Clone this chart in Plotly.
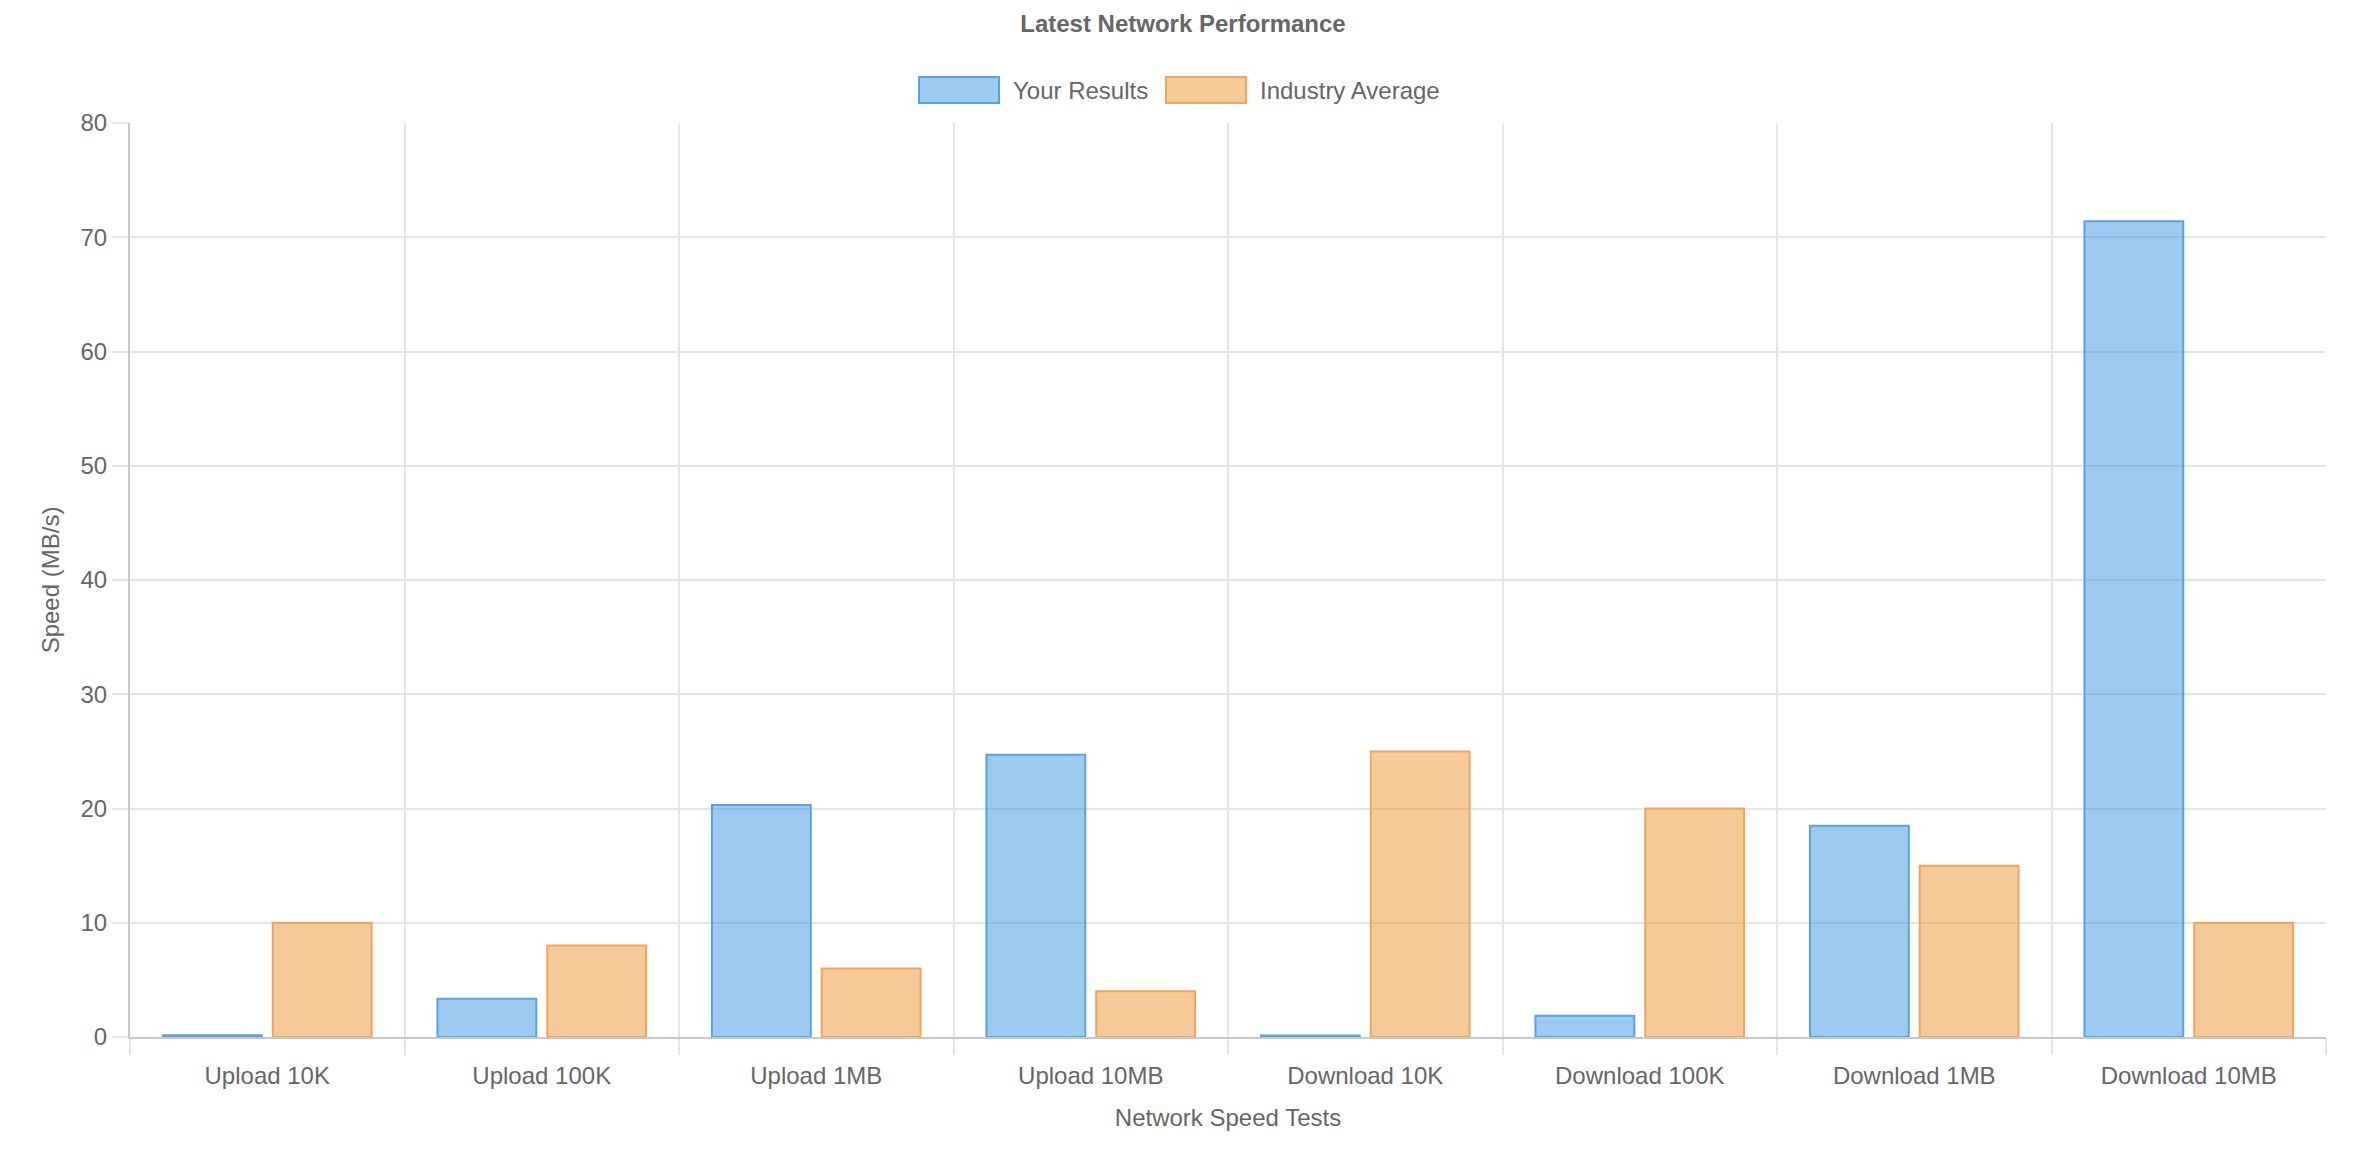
import plotly.graph_objects as go

categories = ["Upload 10K", "Upload 100K", "Upload 1MB", "Upload 10MB",
              "Download 10K", "Download 100K", "Download 1MB", "Download 10MB"]
your_results = [0.16, 3.35, 20.3, 24.7, 0.13, 1.86, 18.5, 71.4]
industry_average = [10, 8, 6, 4, 25, 20, 15, 10]
series_names = ["Your Results", "Industry Average"]
y_ticks = [0, 10, 20, 30, 40, 50, 60, 70, 80]

W, H = 2366, 1154
L, R, T, B = 130, 40, 123, 117
FONT = "Liberation Sans, Arial, Helvetica, sans-serif"
TXT = "#666666"
GRID = "#e5e5e5"
AXIS = "#c8c8c8"
fills = ["rgba(60,150,225,0.5)", "rgba(238,148,52,0.5)"]
borders = ["#5aa2e0", "#efa55c"]

fig = go.Figure()
for name, vals, fc, bc in zip(series_names, [your_results, industry_average], fills, borders):
    fig.add_trace(go.Bar(
        x=categories, y=vals, name=name, showlegend=False,
        marker=dict(color=fc, line=dict(color=bc, width=2)),
    ))

# custom legend (chart.js style wide boxes), placed in pixel space
def px_x(px):
    return (px - L) / (W - L - R)

def px_y(py):
    return (H - B - py) / (H - T - B)

legend_items = [(919, 999, 1011), (1166, 1246, 1258)]
for (x0, x1, tx), name, fc, bc in zip(legend_items, series_names, fills, borders):
    fig.add_shape(type="rect", xref="paper", yref="paper",
                  x0=px_x(x0), x1=px_x(x1), y0=px_y(103), y1=px_y(77),
                  fillcolor=fc, line=dict(color=bc, width=2), layer="above")
    fig.add_annotation(xref="paper", yref="paper", x=px_x(tx), y=px_y(90),
                       text=name, showarrow=False, xanchor="left", yanchor="middle",
                       font=dict(family=FONT, size=24, color=TXT))

fig.update_layout(
    width=W, height=H,
    margin=dict(l=L, r=R, t=T, b=B),
    paper_bgcolor="white", plot_bgcolor="white",
    barmode="group", bargap=0.2, bargroupgap=0.1,
    font=dict(family=FONT, size=24, color=TXT),
    title=dict(text="<b>Latest Network Performance</b>", x=0.5, xref="container",
               y=1 - 24 / H, yref="container", yanchor="middle", xanchor="center",
               font=dict(family=FONT, size=24, color=TXT)),
    xaxis=dict(
        type="category", tickson="boundaries",
        showgrid=True, gridcolor=GRID, gridwidth=2,
        ticks="outside", ticklen=16, tickwidth=2, tickcolor=GRID,
        ticklabelstandoff=16,
        showline=True, linecolor=AXIS, linewidth=2,
        tickfont=dict(size=24, color=TXT),
        title=dict(text="Network Speed Tests", standoff=21, font=dict(size=24, color=TXT)),
        zeroline=False,
    ),
    yaxis=dict(
        range=[0, 80], tickvals=y_ticks,
        showgrid=True, gridcolor=GRID, gridwidth=2,
        ticks="outside", ticklen=16, tickwidth=2, tickcolor=GRID,
        showline=True, linecolor=AXIS, linewidth=2,
        zeroline=False,
        tickfont=dict(size=24, color=TXT),
        title=dict(text="Speed (MB/s)", standoff=14, font=dict(size=24, color=TXT)),
    ),
)

fig.write_html("out.html")
